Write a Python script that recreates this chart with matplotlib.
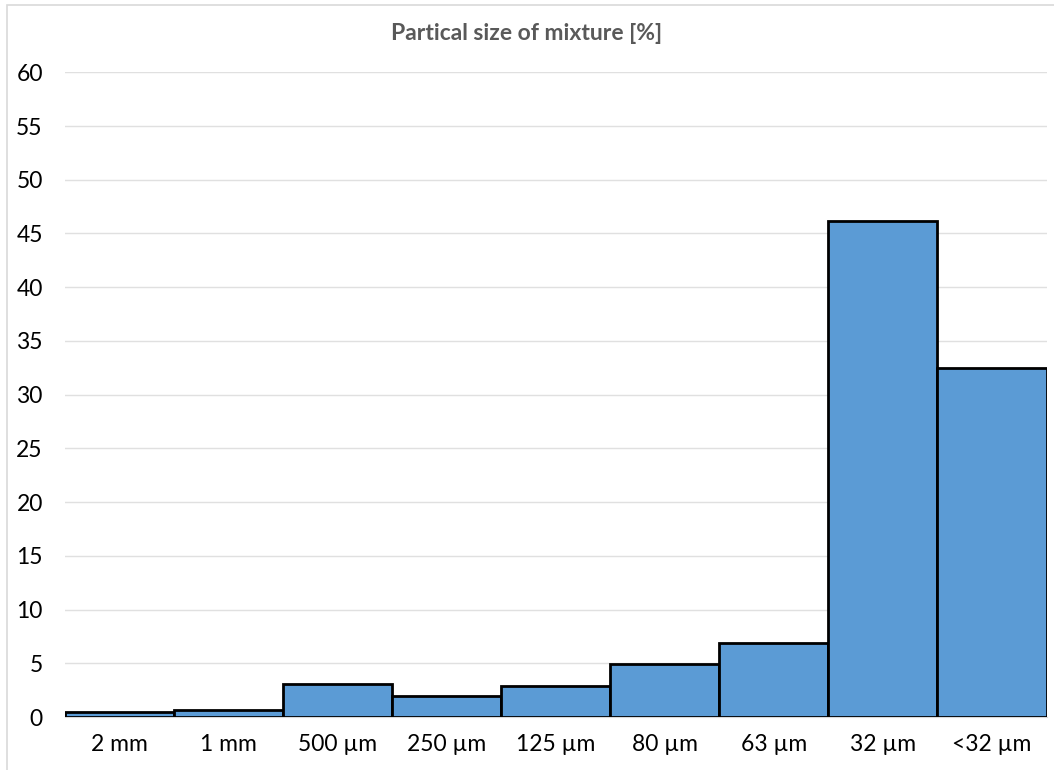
import numpy as np
import matplotlib.pyplot as plt
from matplotlib.patches import Rectangle

plt.rcParams['font.family'] = ['Lato', 'DejaVu Sans']

sizes = ["2 mm", "1 mm", "500 µm", "250 µm", "125 µm", "80 µm", "63 µm", "32 µm", "<32 µm"]
percent = [0.5, 0.65, 3.05, 2.0, 2.9, 4.97, 6.92, 46.2, 32.5]

fig = plt.figure(figsize=(10.54, 7.7), dpi=100)
ax = fig.add_axes([65 / 1054, 1 - 717 / 770, (1046.5 - 65) / 1054, (717 - 72.3) / 770])

# chart frame (left and top edges only are visible)
fig.patches.append(Rectangle((7 / 1054, -0.1), 1.2, 1 - 5 / 770 + 0.1,
                             transform=fig.transFigure, fill=False,
                             edgecolor="#d9d9d9", linewidth=1.2))

x = np.arange(len(sizes))
ax.bar(x, percent, width=1.0, color="#5b9bd5", edgecolor="black", linewidth=2, zorder=3)

ax.set_xlim(-0.5, len(sizes) - 0.5)
ax.set_ylim(0, 60)
ax.set_yticks(np.arange(0, 61, 5))
ax.set_xticks(x)
ax.set_xticklabels(sizes)
ax.grid(axis="y", color="#e0e0e0", linewidth=1, zorder=0)
for s in ["left", "right", "top"]:
    ax.spines[s].set_visible(False)
ax.spines["bottom"].set_color("#d9d9d9")
ax.tick_params(length=0, labelsize=16.5, colors="black")
ax.tick_params(axis="y", pad=16)
ax.tick_params(axis="x", pad=12)

fig.text(0.5, 1 - 33 / 770, "Partical size of mixture [%]", ha="center", va="center",
         fontsize=16.5, fontweight="bold", color="#595959")

fig.savefig("out.png", dpi=100)
